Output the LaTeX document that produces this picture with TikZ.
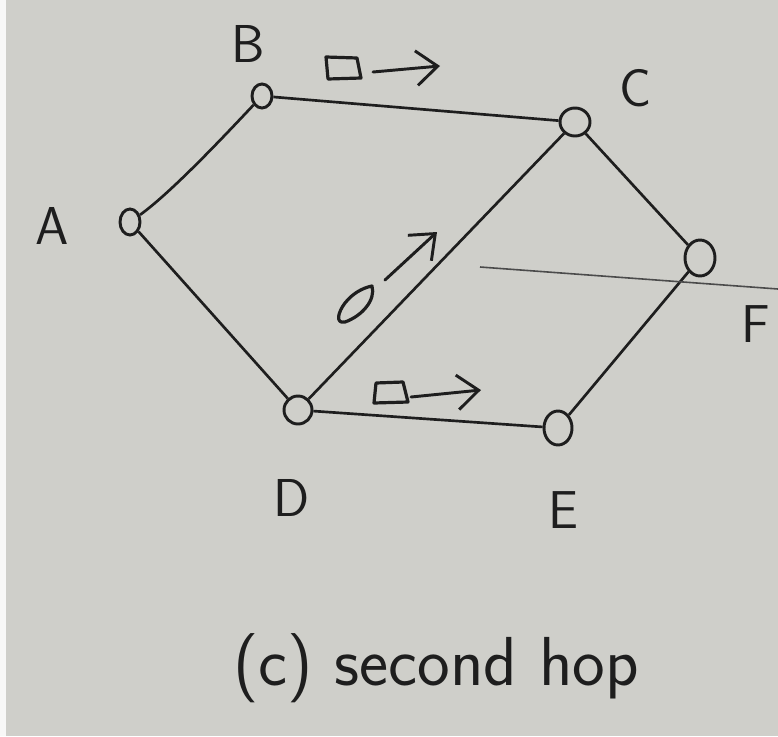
\documentclass[tikz,border=0pt]{standalone}
\usetikzlibrary{shapes.geometric,arrows.meta}
\definecolor{paper}{RGB}{207,207,202}
\definecolor{ink}{RGB}{30,30,30}
\begin{document}
\begin{tikzpicture}[x=0.75pt,y=-0.75pt,
  vertex/.style={draw=ink,ellipse,line width=2.2pt,inner sep=0pt},
  link/.style={draw=ink,line width=2pt},
  lab/.style={text=ink,font=\sffamily\fontsize{40}{40}\selectfont},
  pkt/.style={draw=ink,line width=2.4pt,line join=round},
  flow/.style={draw=ink,line width=2.2pt,line cap=round,-{Straight Barb[length=16pt,width=26pt,line width=2.2pt]}}]
\fill[paper] (0,0) rectangle (778,736);
\useasboundingbox (0,0) rectangle (778,736);
\fill[white!85!paper] (0,0) rectangle (6,736);
% vertices
\node[vertex,minimum width=15pt,minimum height=19.5pt] (A) at (130,222) {};
\node[vertex,minimum width=15pt,minimum height=18pt] (B) at (262,96) {};
\node[vertex,minimum width=22.5pt,minimum height=21pt] (C) at (575,122) {};
\node[vertex,minimum width=22.5pt,minimum height=27pt] (F) at (700,258) {};
\node[vertex,minimum width=21pt,minimum height=21pt] (D) at (298,410) {};
\node[vertex,minimum width=21pt,minimum height=25.5pt] (E) at (558,428) {};
% labels
\node[lab] (lA) at (52,226) {A};
\node[lab] (lB) at (248,44) {B};
\node[lab] (lC) at (636,88) {C};
\node[lab] (lF) at (756,324) {F};
\node[lab] (lD) at (292,498) {D};
\node[lab] (lE) at (563,510) {E};
\node[text=ink,font=\sffamily\fontsize{52}{52}\selectfont] (cap) at (436,668) {(c) second hop};
% edges
\draw[link] (A) .. controls (172,192) and (228,132) .. (B);
\draw[link] (B) -- (C);
\draw[link] (C) -- (F);
\draw[link] (C) -- (D);
\draw[link] (A) -- (D);
\draw[link] (D) -- (E);
\draw[link] (E) -- (F);
% stray pencil line
\draw[ink!80,line width=1.2pt] (480,267) -- (778,289);
% packet on B-C
\draw[pkt] (326,57) -- (357,58) -- (361,78) -- (328,79) -- cycle;
\coordinate (p1s) at (373,72);
\coordinate (p1e) at (440,66);
\draw[flow] (p1s) -- (p1e);
% packet on D-E
\draw[pkt] (376,383) -- (403,382) -- (408,402) -- (374,403) -- cycle;
\coordinate (p2s) at (411,397);
\coordinate (p2e) at (481,390);
\draw[flow] (p2s) -- (p2e);
% packet on C-D diagonal
\draw[pkt] (372,286) .. controls (376,300) and (362,316) .. (345,322) .. controls (335,324) and (338,312) .. (345,303) .. controls (352,294) and (362,288) .. (372,286) -- cycle;
\coordinate (p3s) at (385,280);
\coordinate (p3e) at (437,232);
\draw[flow] (p3s) -- (p3e);
\end{tikzpicture}
\end{document}
